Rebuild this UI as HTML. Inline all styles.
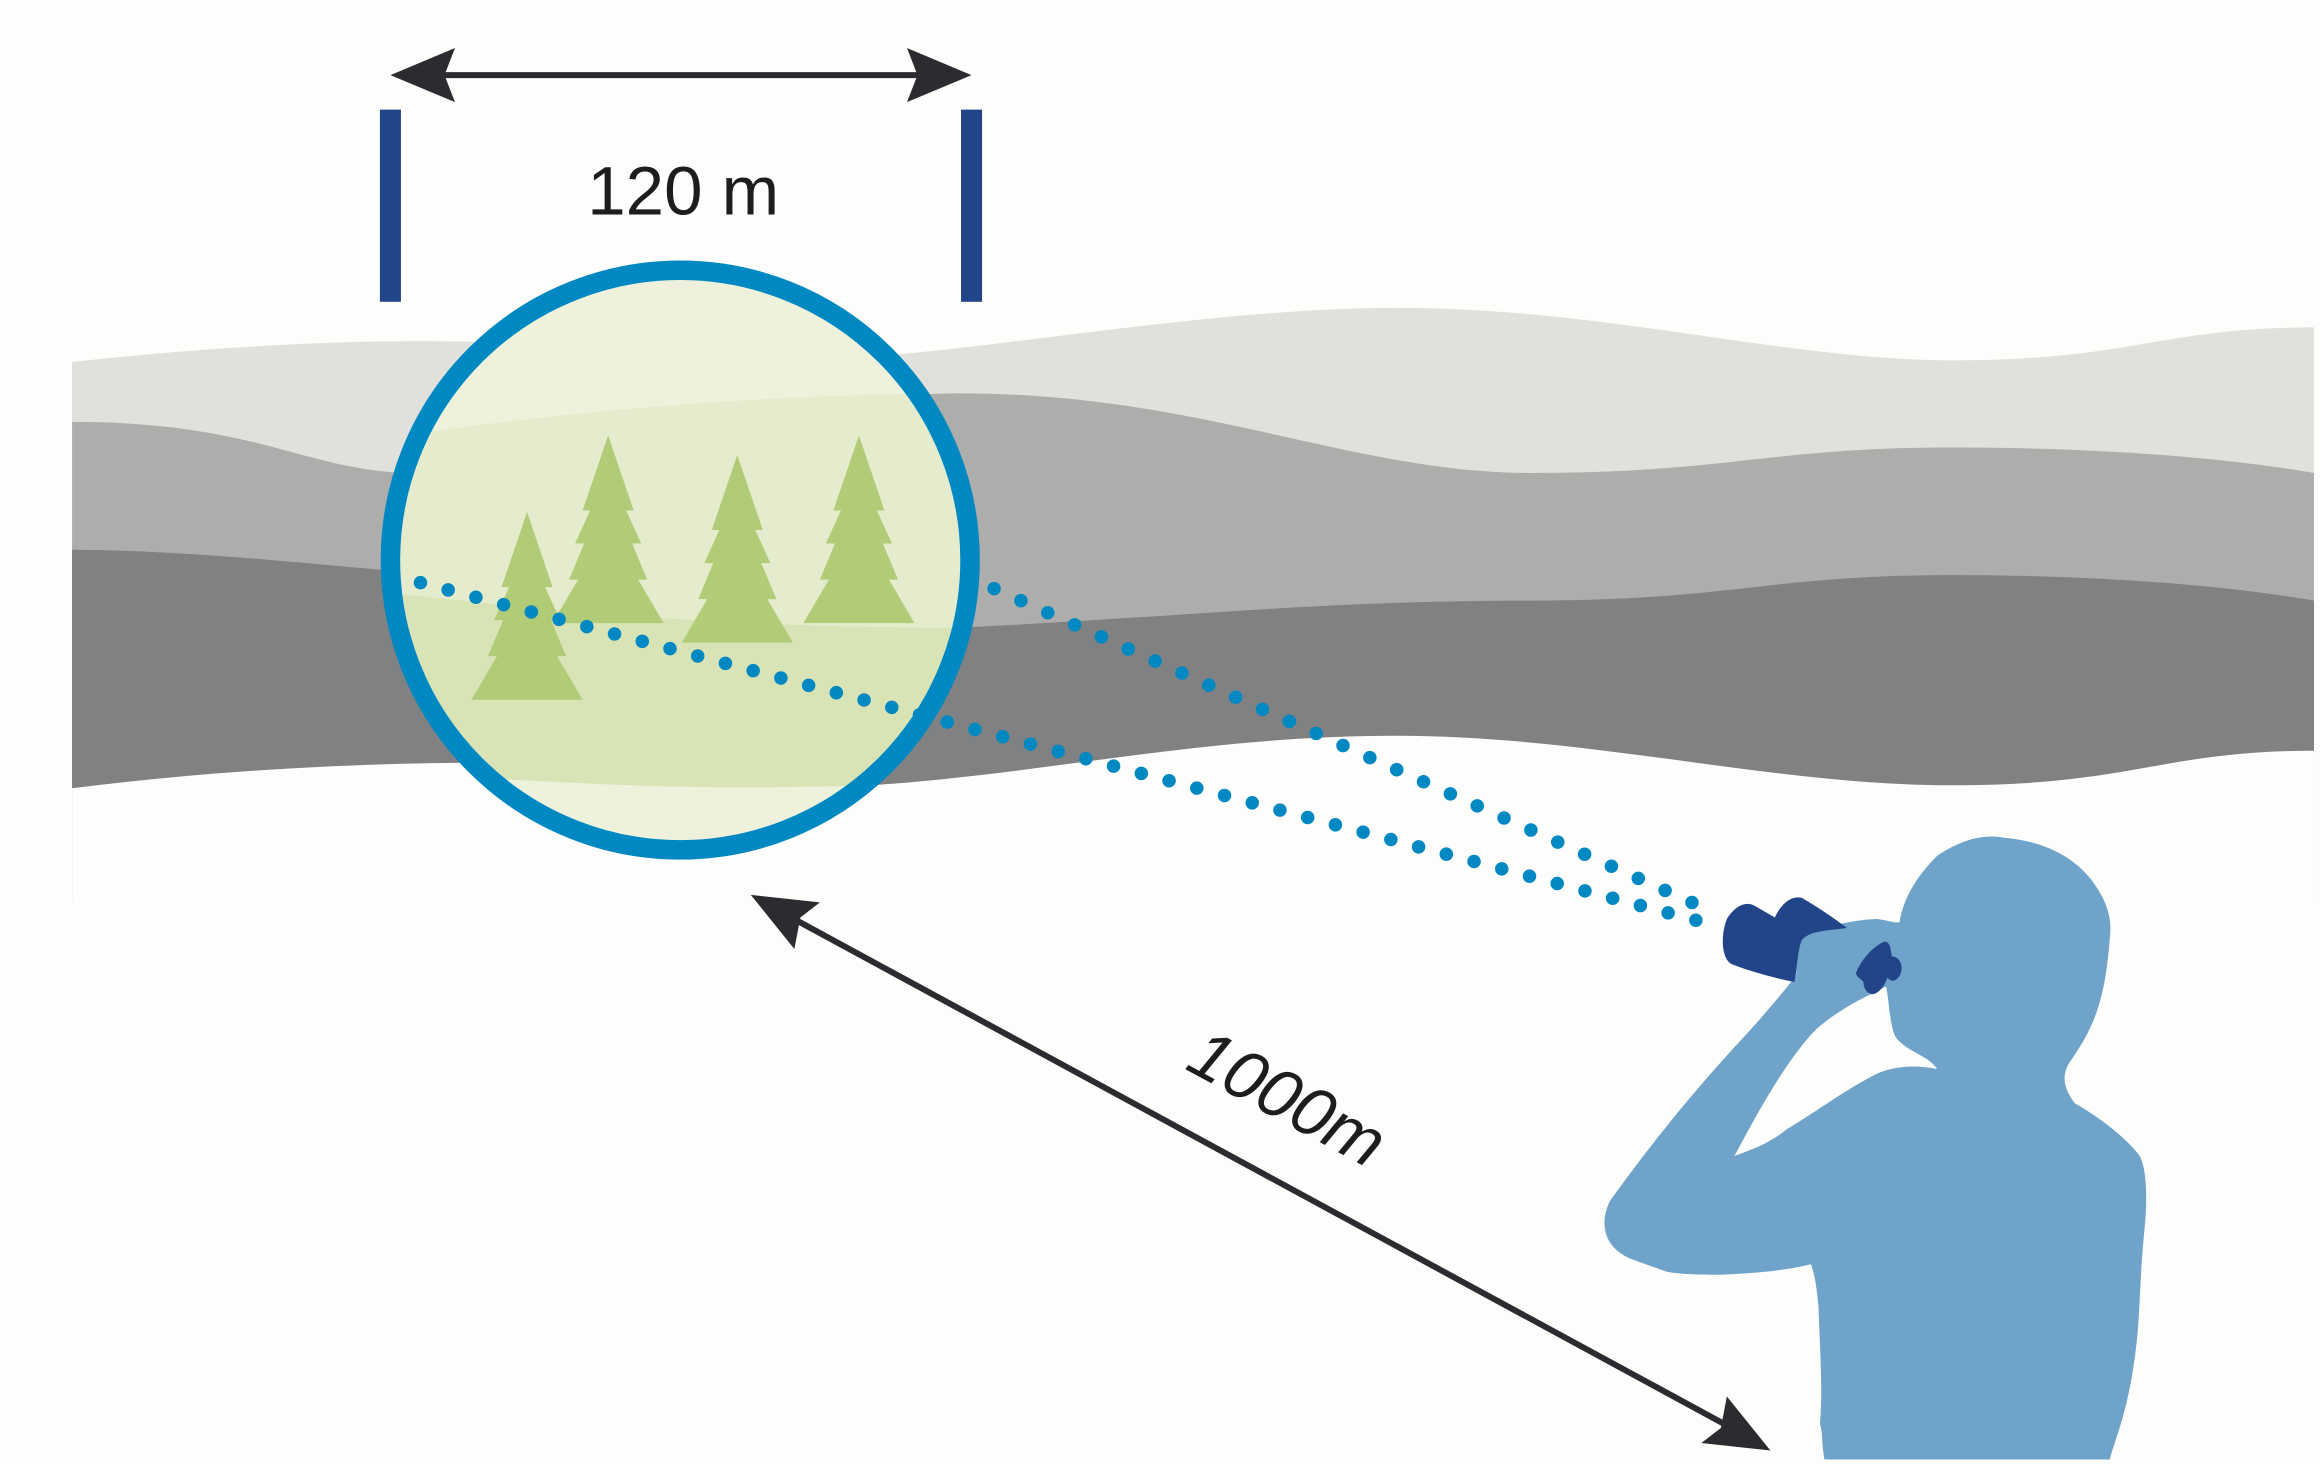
<!DOCTYPE html>
<html><head><meta charset="utf-8"><style>
html,body{margin:0;padding:0;background:#fdfdfb;}
svg{display:block;}
</style></head><body>
<svg width="2320" height="1464" viewBox="0 0 1545 975" preserveAspectRatio="none" xmlns="http://www.w3.org/2000/svg">
<defs>
<clipPath id="cc"><circle cx="453" cy="373" r="193"/></clipPath>
<g id="tree">
<polygon points="0,0 17,50 12,50 22,72 16,72 26,96 20,96 37,125 -37,125 -20,96 -26,96 -16,72 -22,72 -12,50 -17,50"/>
</g>
</defs>
<rect width="1545" height="975" fill="#fdfdfb"/>
<!-- landscape -->
<g id="land">
<path id="b1" d="M48,241 C150,230 250,225 330,228 C420,232 470,242 540,240 C650,236 800,205 930,205 C1070,205 1190,240 1300,240 C1420,240 1440,218 1541,218 L1541,600 L48,600 Z" fill="#e0e0dc"/>
<path id="b2" d="M48,281 C170,281 200,312 270,315 C400,300 540,262 640,262 C800,262 900,315 1020,315 C1150,315 1180,298 1300,298 C1420,298 1500,308 1541,315 L1541,600 L48,600 Z" fill="#adaeac"/>
<path id="b3" d="M48,366 C130,367 200,375 260,380 C400,395 500,418 640,418 C800,410 880,400 1020,400 C1150,400 1180,383 1300,383 C1420,383 1500,393 1541,400 L1541,600 L48,600 Z" fill="#808182"/>
<path id="b4" d="M48,525 C150,512 250,508 320,508 C420,510 480,526 580,523 C700,515 800,490 930,490 C1060,490 1180,523 1300,523 C1420,523 1440,500 1541,500 L1541,975 L48,975 Z" fill="#fdfdfb"/>
</g>
<rect x="0" y="566" width="48" height="409" fill="#fdfdfb"/>
<!-- circle interior -->
<g clip-path="url(#cc)">
<rect x="250" y="170" width="410" height="410" fill="#eef2dc"/>
<path d="M48,281 C170,281 200,312 270,290 C400,270 540,262 640,262 C800,262 900,315 1020,315 L1541,600 L48,600 Z" fill="#e5ecce"/>
<path d="M48,366 C130,367 200,390 260,395 C400,410 500,418 640,418 L1541,600 L48,600 Z" fill="#d8e3b6"/>
<path d="M48,525 C150,512 250,515 320,518 C420,524 480,526 580,523 L1541,975 L48,975 Z" fill="#eef2dc"/>
<g fill="#b0cc76">
<use href="#tree" x="405" y="290"/>
<use href="#tree" x="491" y="303"/>
<use href="#tree" x="572" y="290"/>
<use href="#tree" x="351" y="341"/>
</g>
</g>
<circle cx="453" cy="373" r="193" fill="none" stroke="#0088c2" stroke-width="13"/>
<!-- dotted lines -->
<line x1="280" y1="388" x2="1145" y2="617" stroke="#0088c2" stroke-width="9" stroke-linecap="round" stroke-dasharray="0 19.1"/>
<line x1="662" y1="392" x2="1140" y2="607" stroke="#0088c2" stroke-width="9" stroke-linecap="round" stroke-dasharray="0 19.6"/>
<!-- brackets -->
<rect x="253" y="73" width="14" height="128" fill="#224488"/>
<rect x="640" y="73" width="14" height="128" fill="#224488"/>
<line x1="290" y1="50" x2="620" y2="50" stroke="#2b2b30" stroke-width="4"/>
<polygon points="260,50 303,32 296,50 303,68" fill="#2b2b30"/>
<polygon points="647,50 604,32 611,50 604,68" fill="#2b2b30"/>
<text x="455" y="143" font-family="Liberation Sans, sans-serif" font-size="46" fill="#1d1d1d" text-anchor="middle">120 m</text>
<!-- distance arrow -->
<line x1="525" y1="610" x2="1155" y2="952" stroke="#2b2b30" stroke-width="4"/>
<polygon points="500,596 546,601 533,611 529,632" fill="#2b2b30"/>
<polygon points="1179,966 1133,961 1146,951 1150,930" fill="#2b2b30"/>
<text x="0" y="0" transform="translate(850,745) rotate(28.5)" font-family="Liberation Sans, sans-serif" font-style="italic" font-size="46" fill="#1d1d1d" text-anchor="middle">1000m</text>
<!-- person -->
<path fill="#6fa3ca" d="M1265,614 C1268,595 1280,580 1290,570 C1305,560 1320,555 1335,558 C1360,560 1380,570 1392,585 C1402,598 1407,610 1405,625 C1402,665 1395,683 1380,705 C1372,715 1374,725 1382,735 C1400,745 1418,760 1425,770 C1430,780 1430,800 1428,820 C1424,860 1426,880 1420,915 C1415,945 1408,960 1405,972 L1215,972 C1213,960 1214,955 1212,948 C1214,925 1212,900 1211,870 C1210,860 1209,850 1206,842 C1190,846 1170,848 1145,849 C1125,849 1115,848 1110,847 L1085,838 C1068,830 1065,815 1072,800 C1090,775 1120,735 1160,692 C1175,676 1188,660 1196,650 C1197,640 1197,630 1200,624 C1210,617 1240,612 1250,612 C1258,613 1262,615 1265,614 Z"/>
<path fill="#fdfdfb" d="M1155,770 C1170,742 1190,705 1210,685 C1225,672 1240,665 1256,657 C1258,665 1258,680 1262,690 C1268,700 1285,703 1290,712 C1275,709 1262,710 1250,715 C1230,725 1210,740 1190,752 C1178,762 1165,766 1155,770 Z"/>
<!-- binoculars -->
<path fill="#224488" d="M1150,612 C1155,604 1162,600 1168,603 L1182,611 C1186,602 1193,596 1200,598 C1212,605 1222,612 1230,618 C1215,620 1205,620 1200,626 C1197,632 1197,645 1195,654 C1180,651 1163,646 1153,642 C1146,638 1146,622 1150,612 Z"/>
<path fill="#224488" d="M1236,648 C1240,638 1248,630 1255,627 C1259,627 1259,633 1260,637 C1266,637 1268,645 1265,650 C1262,654 1259,654 1257,651 C1255,657 1250,663 1246,662 C1241,660 1241,655 1241,654 C1238,651 1236,650 1236,648 Z"/>
</svg>
</body></html>
